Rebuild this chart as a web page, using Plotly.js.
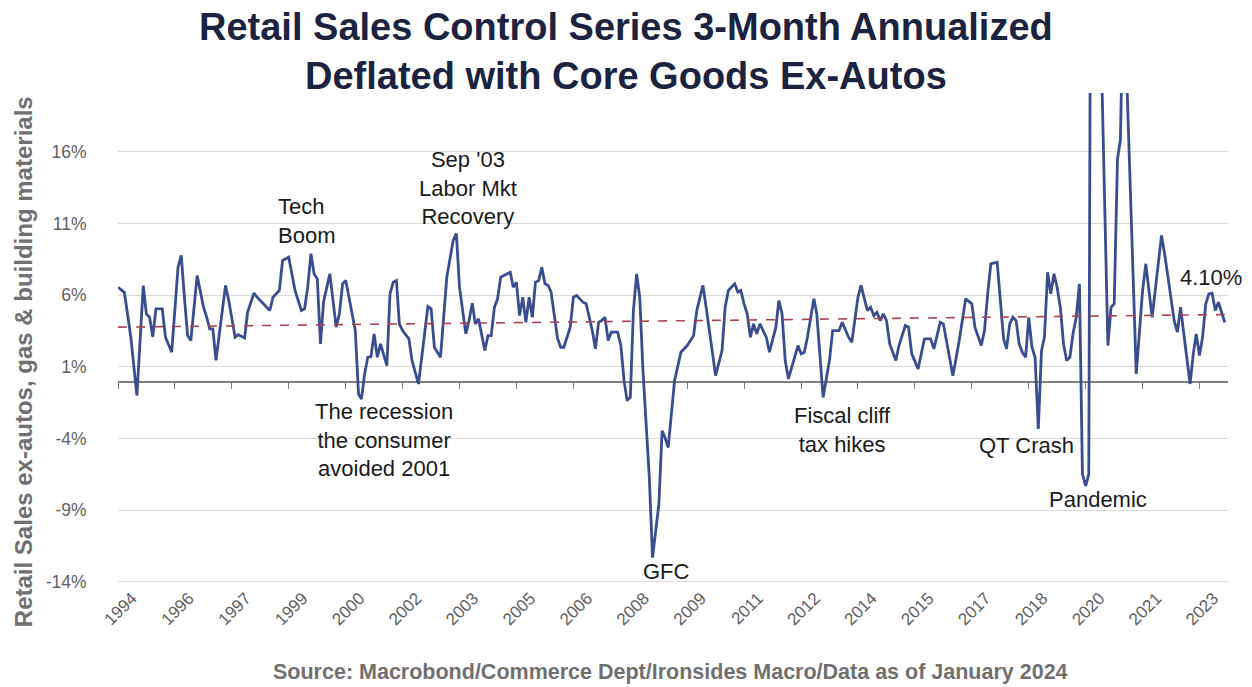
<!DOCTYPE html>
<html><head><meta charset="utf-8">
<script src="https://cdn.plot.ly/plotly-3.0.1.min.js"></script>
<style>html,body{margin:0;padding:0;background:#fff}#chart{width:1252px;height:687px}</style>
</head><body><div id="chart"></div>
<script>
const dates = [
'1994-10','1994-12','1995-02','1995-04','1995-06','1995-07','1995-08','1995-09','1995-10','1995-12',
'1996-01','1996-03','1996-05','1996-06','1996-07','1996-08','1996-09','1996-11',
'1997-01','1997-02','1997-03','1997-04','1997-05','1997-08','1997-09','1997-11','1997-12',
'1998-02','1998-03','1998-05','1998-06','1998-10','1998-11',
'1999-01','1999-02','1999-04','1999-06','1999-08','1999-09','1999-10','1999-11','1999-12',
'2000-01','2000-02','2000-03','2000-05','2000-07','2000-08','2000-09','2000-10','2000-11',
'2001-01','2001-02','2001-03','2001-04','2001-05','2001-06','2001-07','2001-08','2001-09','2001-11','2001-12',
'2002-01','2002-02','2002-03','2002-04','2002-06','2002-07','2002-09','2002-12',
'2003-01','2003-02','2003-04','2003-06','2003-08','2003-09','2003-10','2003-12',
'2004-01','2004-02','2004-03','2004-04','2004-06','2004-07','2004-08','2004-09','2004-10','2004-11','2004-12',
'2005-02','2005-03','2005-04','2005-05','2005-06','2005-07','2005-08','2005-09','2005-10','2005-11','2005-12',
'2006-01','2006-02','2006-03','2006-04','2006-05','2006-06','2006-07','2006-09','2006-10','2006-11',
'2007-01','2007-02','2007-04','2007-05','2007-06','2007-07','2007-08','2007-09','2007-10','2007-12',
'2008-01','2008-02','2008-03','2008-04','2008-05','2008-06','2008-07','2008-08','2008-10','2008-11',
'2009-01','2009-02','2009-03','2009-04','2009-05','2009-06','2009-08','2009-09','2009-10','2009-11','2009-12',
'2010-01','2010-03','2010-04','2010-07','2010-09','2010-10','2010-11',
'2011-01','2011-02','2011-03','2011-04','2011-05','2011-06','2011-07','2011-08','2011-09','2011-11','2011-12',
'2012-02','2012-03','2012-04','2012-05','2012-06','2012-09','2012-10','2012-11','2012-12',
'2013-02','2013-03','2013-04','2013-05','2013-07','2013-08','2013-10','2013-11',
'2014-01','2014-02','2014-04','2014-05','2014-07','2014-08','2014-09','2014-10','2014-11','2014-12',
'2015-01','2015-02','2015-04','2015-05','2015-07','2015-08','2015-09','2015-11',
'2016-01','2016-03','2016-04','2016-06','2016-07','2016-09','2016-10','2016-12',
'2017-02','2017-04','2017-05','2017-07','2017-08','2017-09','2017-10','2017-12',
'2018-02','2018-03','2018-04','2018-05','2018-06','2018-07','2018-08','2018-09','2018-10','2018-11','2018-12',
'2019-01','2019-02','2019-03','2019-04','2019-05','2019-06','2019-07','2019-08','2019-09','2019-10','2019-11','2019-12',
'2020-01','2020-02','2020-03','2020-04','2020-05','2020-06','2020-07','2020-08','2020-09','2020-11','2020-12',
'2021-01','2021-02','2021-03','2021-04','2021-05','2021-08','2021-10','2021-11','2021-12',
'2022-01','2022-04','2022-05','2022-08','2022-09','2022-10',
'2023-01','2023-02','2023-03','2023-04','2023-05','2023-06','2023-07','2023-08','2023-09','2023-10','2023-11','2023-12'
];
// Retail sales control, 3-month annualized, deflated (%)
const values = [
6.55,6.2,3.1,-1.0,6.67,4.7,4.46,3.1,5.05,5.05,
3.07,2.02,7.95,8.77,5.86,3.18,2.84,7.37,
5.16,4.46,3.65,3.65,1.45,6.68,5.63,3.07,3.25,
3.02,4.81,6.14,5.86,4.93,5.86,
6.33,8.42,8.65,6.33,4.93,5.05,6.56,8.89,7.49,
7.14,2.6,5.51,7.49,3.77,4.7,6.79,7.02,5.86,
3.53,-0.89,-1.24,0.51,1.67,1.72,3.3,1.67,2.6,1.09,6.09,
6.9,7.02,4.0,3.53,2.95,1.44,-0.19,5.21,
5.05,2.37,1.67,7.26,9.82,10.29,6.56,3.3,
4.23,5.44,4.0,4.35,2.14,3.18,3.18,5.16,5.75,7.26,7.37,
7.6,6.56,6.9,4.58,5.86,4.11,5.86,4.46,6.9,7.02,7.95,
6.79,6.68,6.2,4.5,3.0,2.37,2.37,3.77,5.86,5.98,
5.51,5.4,3.53,2.26,4.11,4.23,4.46,2.84,3.42,3.42,
2.49,0.04,-1.35,-1.12,4.93,7.49,5.86,0.74,-6.71,-12.3,
-8.57,-3.45,-3.92,-4.62,-2.28,0.04,2.02,2.26,2.49,2.84,3.18,
4.93,6.68,5.16,0.39,2.14,5.16,6.33,
6.79,6.21,6.33,5.4,4.7,3.07,4.0,3.3,4.0,3.07,2.02,
3.77,5.63,4.7,1.44,0.16,2.49,1.91,2.02,3.07,
5.75,4.7,1.91,-1.12,1.44,3.53,3.53,4.11,
3.07,2.72,5.86,6.68,4.93,5.16,4.58,4.81,4.23,4.7,
4.23,2.6,1.44,2.49,3.88,3.77,1.91,0.86,
2.95,2.95,2.26,4.11,4.0,1.44,0.39,2.84,
5.75,5.4,3.77,2.49,3.53,6.09,8.19,8.3,
2.95,2.26,4.0,4.46,4.23,2.6,2.02,1.67,4.46,2.37,1.67,
-3.33,2.14,3.07,7.6,6.09,7.49,6.56,5.16,2.6,1.44,1.67,3.3,
4.46,6.79,-6.47,-7.29,-6.47,60,45,30,22,2.49,5.16,
5.4,15.5,16.8,28,21.5,0.51,6.33,8.19,6.33,
4.46,10.17,8.89,4.23,3.42,5.16,
-0.19,1.91,3.3,1.79,3.07,5.4,6.09,6.14,4.93,5.51,4.81,4.1
];
// Linear trend (dashed)
const trendDates = ['1994-10','2023-12'];
const trendValues = [3.77, 4.65];

const yTickVals = [-14,-9,-4,1,6,11,16];
const yTickText = ['-14%','-9%','-4%','1%','6%','11%','16%'];
const xTickVals = ['1994-10','1996-04','1997-10','1999-04','2000-10','2002-04','2003-10','2005-04','2006-10','2008-04',
                   '2009-10','2011-04','2012-10','2014-04','2015-10','2017-04','2018-10','2020-04','2021-10','2023-04'];
const xTickText = ['1994','1996','1997','1999','2000','2002','2003','2005','2006','2008',
                   '2009','2011','2012','2014','2015','2017','2018','2020','2021','2023'];

const notes = [
  {x:'1998-12-01', y:11.2, text:'Tech<br>Boom', xanchor:'left', align:'left'},
  {x:'2003-12-20', y:13.45, text:"Sep '03<br>Labor Mkt<br>Recovery", xanchor:'center', align:'center'},
  {x:'2001-10-01', y:-4.1, text:'The recession<br>the consumer<br>avoided 2001', xanchor:'center', align:'center'},
  {x:'2009-03-18', y:-13.3, text:'GFC', xanchor:'center', align:'center'},
  {x:'2013-11-01', y:-3.4, text:'Fiscal cliff<br>tax hikes', xanchor:'center', align:'center'},
  {x:'2018-09-10', y:-4.45, text:'QT Crash', xanchor:'center', align:'center'},
  {x:'2020-08-01', y:-8.28, text:'Pandemic', xanchor:'center', align:'center'},
  {x:'2023-07-20', y:7.2, text:'4.10%', xanchor:'center', align:'center'}
];

const yRange = [-14.14, 20.1];
const FONT = 'Liberation Sans, Arial, sans-serif';

const traces = [
  {x: trendDates, y: trendValues, type:'scatter', mode:'lines', xaxis:'x2', yaxis:'y',
   line:{color:'#a84452', width:1.6, dash:'dash'}, hoverinfo:'skip', showlegend:false},
  {x: dates, y: values, type:'scatter', mode:'lines', xaxis:'x', yaxis:'y',
   line:{color:'#3a4d8f', width:2.8}, showlegend:false}
];

const annotations = notes.map(n => ({
  x:n.x, y:n.y, xref:'x', yref:'y', text:n.text, showarrow:false,
  xanchor:n.xanchor, yanchor:'middle', align:n.align,
  font:{family:FONT, size:22, color:'#1a1a1a'}
}));
annotations.push({
  xref:'paper', yref:'paper', x:-0.0855, y:0.452, textangle:-90, showarrow:false,
  text:'<b>Retail Sales ex-autos, gas &amp; building materials</b>',
  font:{family:FONT, size:24, color:'#707070'}, xanchor:'center', yanchor:'middle'
});
annotations.push({
  xref:'paper', yref:'paper', x:0.498, y:-0.179, showarrow:false,
  text:'<b>Source: Macrobond/Commerce Dept/Ironsides Macro/Data as of January 2024</b>',
  font:{family:FONT, size:21.5, color:'#707070'}, xanchor:'center', yanchor:'middle'
});
annotations.push({
  xref:'paper', yref:'paper', x:0.4577, y:(584 - 52)/491, showarrow:false,
  text:'<b>Retail Sales Control Series 3-Month Annualized<br>Deflated with Core Goods Ex-Autos</b>',
  font:{family:FONT, size:38, color:'#1c2340'}, xanchor:'center', yanchor:'middle', align:'center'
});

const layout = {
  width:1252, height:687,
  margin:{l:118, r:24, t:93, b:103},
  paper_bgcolor:'#ffffff', plot_bgcolor:'#ffffff',
  xaxis:{type:'date', range:['1994-10-01','2024-01-01'], tickvals:xTickVals, ticktext:xTickText,
         tickangle:-45, showgrid:false, zeroline:false, showline:false, ticks:'',
         tickfont:{family:FONT, size:17, color:'#606060'}, ticklabelshift:14},
  xaxis2:{type:'date', overlaying:'x', anchor:'free',
          position:(0 - yRange[0])/(yRange[1]-yRange[0]),
          range:['1994-10-01','2024-01-01'], tickvals:xTickVals, showticklabels:false,
          showgrid:false, zeroline:false, showline:true, linecolor:'#808080', linewidth:1.3,
          ticks:'outside', ticklen:6, tickcolor:'#808080', tickwidth:1, layer:'below traces'},
  yaxis:{range:yRange, tickvals:yTickVals, ticktext:yTickText, showgrid:true, gridcolor:'#dadada',
         gridwidth:1, zeroline:false, showline:false, ticks:'outside', ticklen:27,
         tickcolor:'rgba(0,0,0,0)', tickfont:{family:FONT, size:17.5, color:'#5f5f5f'}},
  annotations: annotations,
  showlegend:false
};

Plotly.newPlot('chart', traces, layout, {displayModeBar:false, staticPlot:true});
</script>
</body></html>
